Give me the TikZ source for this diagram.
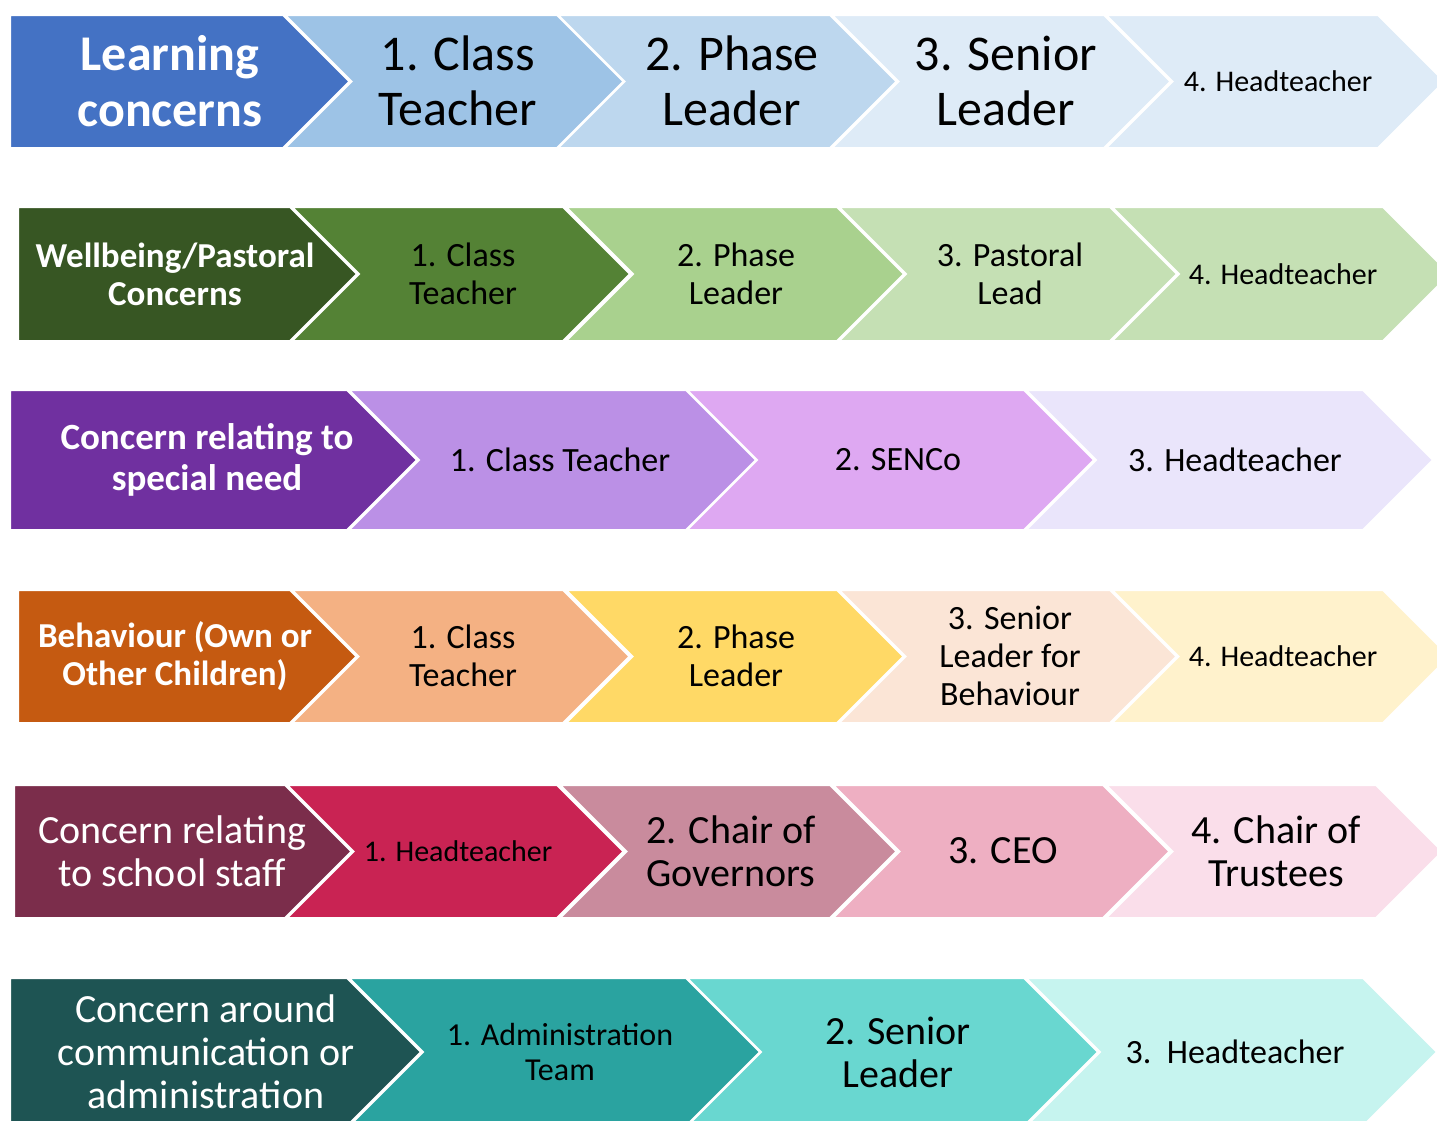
\documentclass[tikz,border=0pt]{standalone}
\usepackage{fontspec}
\setmainfont{Carlito}

% row colours
\definecolor{lnA}{HTML}{4472C4}
\definecolor{lnB}{HTML}{9DC3E6}
\definecolor{lnC}{HTML}{BDD7EE}
\definecolor{lnD}{HTML}{DEEBF7}
\definecolor{wbA}{HTML}{375623}
\definecolor{wbB}{HTML}{548235}
\definecolor{wbC}{HTML}{A9D18E}
\definecolor{wbD}{HTML}{C5E0B4}
\definecolor{snA}{HTML}{7030A0}
\definecolor{snB}{HTML}{BB90E6}
\definecolor{snC}{HTML}{DEA8F2}
\definecolor{snD}{HTML}{EAE5FB}
\definecolor{bhA}{HTML}{C55A11}
\definecolor{bhB}{HTML}{F4B183}
\definecolor{bhC}{HTML}{FFD966}
\definecolor{bhD}{HTML}{FBE5D6}
\definecolor{bhE}{HTML}{FFF2CC}
\definecolor{stA}{HTML}{7B2D4B}
\definecolor{stB}{HTML}{C92353}
\definecolor{stC}{HTML}{C98B9D}
\definecolor{stD}{HTML}{EEAFC2}
\definecolor{stE}{HTML}{FADEEA}
\definecolor{cmA}{HTML}{1E5453}
\definecolor{cmB}{HTML}{2AA3A0}
\definecolor{cmC}{HTML}{69D7D0}
\definecolor{cmD}{HTML}{C6F4EF}

% #1 left, #2 top, #3 body width, #4 height, #5 fill
\newcommand{\homeplate}[5]{%
  \draw[chev, fill=#5] (#1,#2) -- ++(#3,0) -- ++(#4/2,#4/2)
    -- ++(-#4/2,#4/2) -- ++(-#3,0) -- cycle;}
\newcommand{\chevron}[5]{%
  \draw[chev, fill=#5] (#1,#2) -- ++(#3,0) -- ++(#4/2,#4/2)
    -- ++(-#4/2,#4/2) -- ++(-#3,0) -- ++(#4/2,-#4/2) -- cycle;}

\begin{document}
\begin{tikzpicture}[
			x=1pt, y=-1pt,
			every node/.style={inner sep=0pt, align=center},
			chev/.style={draw=white, line width=2pt, line join=miter},
			headA/.style={text=white, font=\fontsize{50}{56}\selectfont\bfseries},
			headB/.style={text=white, font=\fontsize{35}{38}\selectfont\bfseries},
			headC/.style={text=white, font=\fontsize{40}{43}\selectfont},
			hugetxt/.style={font=\fontsize{50}{55}\selectfont},
			midtxt/.style={font=\fontsize{34}{38}\selectfont},
			bigtxt/.style={font=\fontsize{40}{43}\selectfont},
			smalltxt/.style={font=\fontsize{30}{35}\selectfont},
			]
			\clip (0,0) rectangle (1437,1120);
			% =============================================================
			%  Learning concerns
			% =============================================================
			\homeplate{10}{15}{273}{133}{lnA}
			\foreach \x/\c in {285/lnB, 558/lnC, 832/lnD, 1106/lnD}
			\chevron{\x}{15}{272}{133}{\c};
			\node[headA] (learn) at (170,81) {Learning\\concerns};
			\node[hugetxt] (lclass) at (458,81) {1. Class\\Teacher};
			\node[hugetxt] (lphase) at (732,81) {2. Phase\\Leader};
			\node[hugetxt] (lsenior) at (1006,81) {3. Senior\\Leader};
			\node[smalltxt] (lhead) at (1278,81) {4. Headteacher};

			% =============================================================
			%  Wellbeing / pastoral
			% =============================================================
			\homeplate{18}{207}{272}{134}{wbA}
			\foreach \x/\c in {292/wbB, 566/wbC, 839/wbD, 1112/wbD}
			\chevron{\x}{207}{271}{134}{\c};
			\node[headB] (wellb) at (175,274) {Wellbeing/Pastoral\\Concerns};
			\node[midtxt] (wclass) at (463,274) {1. Class\\Teacher};
			\node[midtxt] (wphase) at (736,274) {2. Phase\\Leader};
			\node[midtxt] (wpast) at (1010,274) {3. Pastoral\\Lead};
			\node[smalltxt] (whead) at (1283,274) {4. Headteacher};

			% =============================================================
			%  Special need
			% =============================================================
			\homeplate{10}{390}{337}{140}{snA}
			\foreach \x/\c in {349/snB, 687/snC, 1026/snD}
			\chevron{\x}{390}{337}{140}{\c};
			\node[headB, font=\fontsize{37}{41}\selectfont\bfseries] (sneed)
			at (207,460) {Concern relating to\\special need};
			\node[midtxt] (sclass) at (560,460) {1. Class Teacher};
			\node[midtxt] (senco) at (898,460) {2. SENCo};
			\node[midtxt] (shead) at (1235,460) {3. Headteacher};

			% =============================================================
			%  Behaviour
			% =============================================================
			\homeplate{18}{590}{272}{133}{bhA}
			\foreach \x/\c in {292/bhB, 566/bhC, 839/bhD, 1112/bhE}
			\chevron{\x}{590}{271}{133}{\c};
			\node[headB] (behav) at (175,656) {Behaviour (Own or\\Other Children)};
			\node[midtxt] (bclass) at (463,656) {1. Class\\Teacher};
			\node[midtxt] (bphase) at (736,656) {2. Phase\\Leader};
			\node[midtxt] (bsenior) at (1010,656) {3. Senior\\Leader for\\Behaviour};
			\node[smalltxt] (bhead) at (1283,656) {4. Headteacher};

			% =============================================================
			%  School staff
			% =============================================================
			\homeplate{14}{785}{271}{133}{stA}
			\foreach \x/\c in {287/stB, 560/stC, 833/stD, 1106/stE}
			\chevron{\x}{785}{270}{133}{\c};
			\node[headC] (staff) at (172,851) {Concern relating\\to school staff};
			\node[smalltxt] (thead) at (458,851) {1. Headteacher};
			\node[bigtxt] (tgov) at (731,851) {2. Chair of\\Governors};
			\node[bigtxt] (tceo) at (1003,851) {3. CEO};
			\node[bigtxt] (ttrust) at (1276,851) {4. Chair of\\Trustees};

			% =============================================================
			%  Communication / administration
			% =============================================================
			\homeplate{10}{978}{337}{148}{cmA}
			\foreach \x/\c in {349/cmB, 687/cmC, 1026/cmD}
			\chevron{\x}{978}{337}{148}{\c};
			\node[headC] (comm) at (206,1052) {Concern around\\communication or\\administration};
			\node[font=\fontsize{32}{35}\selectfont] (cadmin) at (560,1052) {1. Administration\\Team};
			\node[bigtxt] (csenior) at (898,1052) {2. Senior\\Leader};
			\node[midtxt] (chead) at (1235,1052) {3.\ \ Headteacher};
		\end{tikzpicture}
\end{document}
